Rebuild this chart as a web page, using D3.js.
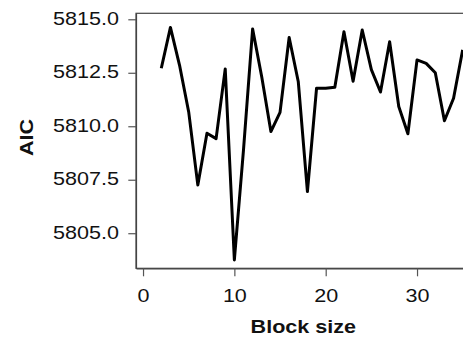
<!DOCTYPE html>
<html>
<head>
<meta charset="utf-8">
<script src="https://cdn.jsdelivr.net/npm/d3@7"></script>
<style>
  html, body { margin: 0; padding: 0; background: #fff; overflow: hidden; }
  svg { display: block; }
  text { font-family: "Liberation Sans", Arial, sans-serif; }
</style>
</head>
<body>
<svg id="chart" width="463" height="339"></svg>
<script>
const blockSize = [2,3,4,5,6,7,8,9,10,11,12,13,14,15,16,17,18,19,20,21,22,23,24,25,26,27,28,29,30,31,32,33,34,35];
const aic = [5812.71,5814.62,5812.85,5810.67,5807.25,5809.67,5809.42,5812.68,5803.75,5808.9,5814.55,5812.3,5809.75,5810.65,5814.15,5812.08,5806.95,5811.78,5811.78,5811.82,5814.42,5812.1,5814.5,5812.65,5811.6,5813.95,5810.92,5809.65,5813.1,5812.94,5812.5,5810.26,5811.31,5813.57];
const xTicks = [0,10,20,30];
const yTicks = [5805.0,5807.5,5810.0,5812.5,5815.0];
const xLabel = "Block size";
const yLabel = "AIC";

const svg = d3.select("#chart");
const L = 136, R = 470, T = 13.3, B = 268.3;
const x = d3.scaleLinear().domain([-0.77, 35.8]).range([L, R]);
const y = d3.scaleLinear().domain([5803.36, 5815.28]).range([B, T]);
const fs = 18.6, sx = 1.16;

// panel border
svg.append("rect").attr("x", L).attr("y", T).attr("width", R - L).attr("height", B - T)
  .attr("fill", "none").attr("stroke", "#444").attr("stroke-width", 1.2);

// x axis
const gx = svg.append("g").attr("transform", `translate(0,${B})`)
  .call(d3.axisBottom(x).tickValues(xTicks).tickFormat(d3.format("d")).tickSize(8).tickSizeOuter(0));
gx.select(".domain").attr("stroke", "#444").attr("stroke-width", 1.2);
gx.selectAll(".tick line").attr("stroke", "#555").attr("stroke-width", 1.2);
gx.selectAll(".tick text").attr("y", 0).attr("dy", null)
  .attr("transform", `translate(0,33.4) scale(${sx},1)`)
  .attr("font-size", fs).attr("fill", "#111").attr("text-anchor", "middle");

// y axis
const gy = svg.append("g").attr("transform", `translate(${L},0)`)
  .call(d3.axisLeft(y).tickValues(yTicks).tickFormat(d3.format(".1f")).tickSize(7.7).tickSizeOuter(0));
gy.select(".domain").attr("stroke", "#444").attr("stroke-width", 1.2);
gy.selectAll(".tick line").attr("stroke", "#555").attr("stroke-width", 1.2);
gy.selectAll(".tick text").attr("x", 0).attr("dy", null)
  .attr("transform", `translate(-17,5.2) scale(${sx},1)`)
  .attr("font-size", fs).attr("fill", "#111").attr("text-anchor", "end");

// line
const clip = svg.append("clipPath").attr("id", "clip").append("rect")
  .attr("x", L).attr("y", 0).attr("width", R - L).attr("height", B);
svg.append("path")
  .datum(blockSize.map((d, i) => [d, aic[i]]))
  .attr("clip-path", "url(#clip)")
  .attr("fill", "none").attr("stroke", "#000").attr("stroke-width", 3)
  .attr("stroke-linejoin", "round")
  .attr("d", d3.line().x(d => x(d[0])).y(d => y(d[1])));

// axis titles
svg.append("text").attr("transform", `translate(303.3,333.3) scale(${sx},1)`)
  .attr("text-anchor", "middle").attr("font-size", fs).attr("font-weight", "bold").attr("fill", "#111")
  .text(xLabel);
svg.append("text").attr("transform", `translate(33.3,137.5) rotate(-90) scale(${sx},1)`)
  .attr("text-anchor", "middle").attr("font-size", fs).attr("font-weight", "bold").attr("fill", "#111")
  .text(yLabel);
</script>
</body>
</html>
